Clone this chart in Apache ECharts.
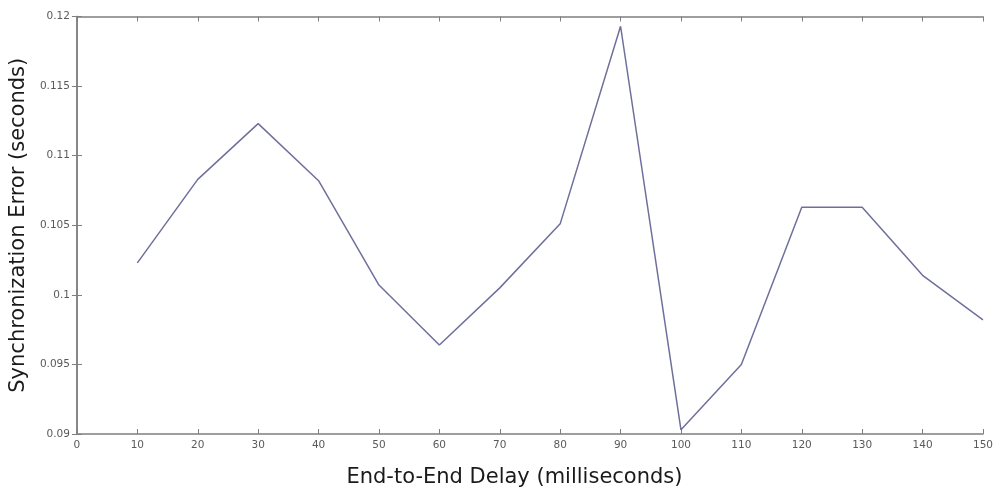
<!DOCTYPE html>
<html>
<head>
<meta charset="utf-8">
<script src="https://cdn.jsdelivr.net/npm/echarts@6/dist/echarts.min.js"></script>
<style>
  html, body { margin: 0; padding: 0; background: #fff; }
  #chart { width: 996px; height: 493px; }
</style>
</head>
<body>
<div id="chart"></div>
<script>
// End-to-end delay (ms) against synchronization error (s)
const delays = [10, 20, 30, 40, 50, 60, 70, 80, 90, 100, 110, 120, 130, 140, 150];
const syncError = [0.1023, 0.1083, 0.1123, 0.1082, 0.1007, 0.0964, 0.1005, 0.1051,
                   0.1193, 0.0903, 0.0950, 0.1063, 0.1063, 0.1014, 0.0982];

const xTicks = [0, 10, 20, 30, 40, 50, 60, 70, 80, 90, 100, 110, 120, 130, 140, 150];
const yTicks = [0.09, 0.095, 0.1, 0.105, 0.11, 0.115, 0.12];

const xTitle = 'End-to-End Delay (milliseconds)';
const yTitle = 'Synchronization Error (seconds)';

const axisGray = '#7f7f7f';
const labelGray = '#5a5a5a';

function yLabel(v) {
  const hit = yTicks.find(t => Math.abs(t - v) < 1e-9);
  return hit === undefined ? '' : String(hit);
}

const baseX = {
  type: 'value',
  min: xTicks[0],
  max: xTicks[xTicks.length - 1],
  interval: 10,
  axisLine: { show: true, lineStyle: { color: axisGray, width: 1.5 } },
  axisTick: { show: true, inside: true, length: 5, lineStyle: { color: axisGray, width: 1 } },
  splitLine: { show: false }
};
const baseY = {
  type: 'value',
  min: yTicks[0],
  max: yTicks[yTicks.length - 1],
  interval: 0.005,
  axisLine: { show: true, lineStyle: { color: axisGray, width: 1.5 } },
  axisTick: { show: true, inside: true, length: 5, lineStyle: { color: axisGray, width: 1 } },
  splitLine: { show: false }
};

const chart = echarts.init(document.getElementById('chart'), null, { renderer: 'canvas' });
chart.setOption({
  animation: false,
  backgroundColor: '#ffffff',
  grid: { left: 75, right: 13, top: 16.5, bottom: 58.5, containLabel: false },
  xAxis: [
    Object.assign({}, baseX, {
      position: 'bottom',
      name: xTitle,
      nameLocation: 'middle',
      nameGap: 33,
      nameTextStyle: {
        fontFamily: 'DejaVu Sans', fontSize: 21, color: '#1a1a1a',
        padding: [0, 31, 0, 0]
      },
      axisLabel: {
        show: true, margin: 6, color: labelGray,
        fontFamily: 'DejaVu Sans', fontSize: 10.5,
        formatter: v => xTicks.includes(v) ? String(v) : ''
      }
    }),
    Object.assign({}, baseX, { position: 'top', axisLabel: { show: false } })
  ],
  yAxis: [
    Object.assign({}, baseY, {
      position: 'left',
      name: yTitle,
      nameLocation: 'middle',
      nameGap: 40,
      nameRotate: 90,
      nameTextStyle: { fontFamily: 'DejaVu Sans', fontSize: 21, color: '#1a1a1a' },
      axisLabel: {
        show: true, margin: 7, color: labelGray,
        fontFamily: 'DejaVu Sans', fontSize: 10.5,
        formatter: yLabel
      }
    }),
    Object.assign({}, baseY, { position: 'right', axisLabel: { show: false } })
  ],
  series: [{
    type: 'line',
    xAxisIndex: 0,
    yAxisIndex: 0,
    data: delays.map((d, i) => [d, syncError[i]]),
    showSymbol: false,
    symbol: 'none',
    lineStyle: { color: '#6f6f9c', width: 1.5 },
    silent: true
  }]
});
</script>
</body>
</html>
